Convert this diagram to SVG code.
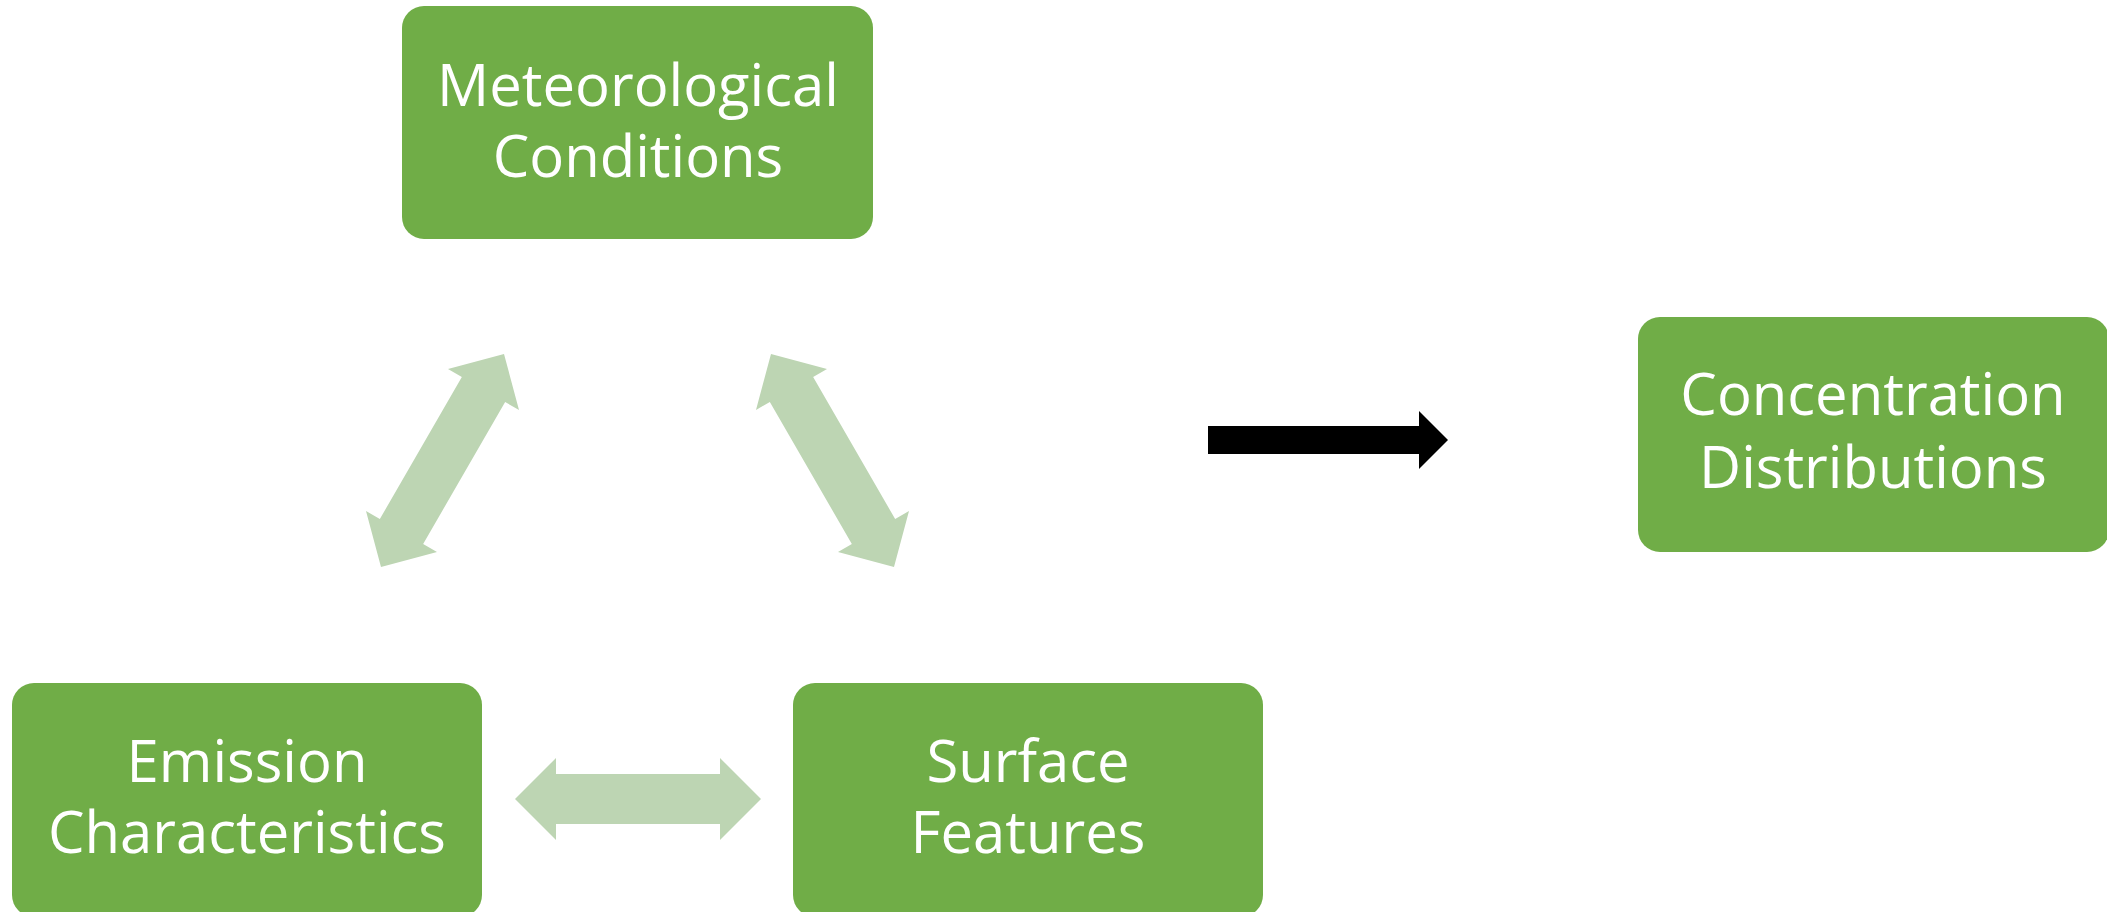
<svg xmlns="http://www.w3.org/2000/svg" width="2107" height="912" viewBox="0 0 2107 912">
<style>
.box{fill:#70AD47;}
.lbl{font-family:"Open Sans","Liberation Sans",sans-serif;font-size:58px;fill:#FFFFFF;text-anchor:middle;}
.dbl{fill:#BDD5B3;}
</style>
<defs>
<polygon id="dblArrow" points="-123,0 -82,-41 -82,-25 82,-25 82,-41 123,0 82,41 82,25 -82,25 -82,41"/>
</defs>
<rect width="2107" height="912" fill="#FFFFFF"/>
<g id="connectors">
<use href="#dblArrow" class="dbl" transform="translate(442.5,460.5) rotate(-60)"/>
<use href="#dblArrow" class="dbl" transform="translate(832.5,460.5) rotate(60)"/>
<use href="#dblArrow" class="dbl" transform="translate(638,799)"/>
<polygon points="1208,426 1419,426 1419,411 1448,440 1419,469 1419,454 1208,454" fill="#000000"/>
</g>
<g id="node-meteorological">
<rect class="box" x="402" y="6" width="471" height="233" rx="22"/>
<text class="lbl" x="638" y="106">Meteorological</text>
<text class="lbl" x="638" y="177">Conditions</text>
</g>
<g id="node-concentration">
<rect class="box" x="1638" y="317" width="471" height="235" rx="22"/>
<text class="lbl" x="1873" y="415">Concentration</text>
<text class="lbl" x="1873" y="488">Distributions</text>
</g>
<g id="node-emission">
<rect class="box" x="12" y="683" width="470" height="234" rx="22"/>
<text class="lbl" x="247" y="782">Emission</text>
<text class="lbl" x="247" y="853">Characteristics</text>
</g>
<g id="node-surface">
<rect class="box" x="793" y="683" width="470" height="234" rx="22"/>
<text class="lbl" x="1028" y="782">Surface</text>
<text class="lbl" x="1028" y="853">Features</text>
</g>
</svg>
